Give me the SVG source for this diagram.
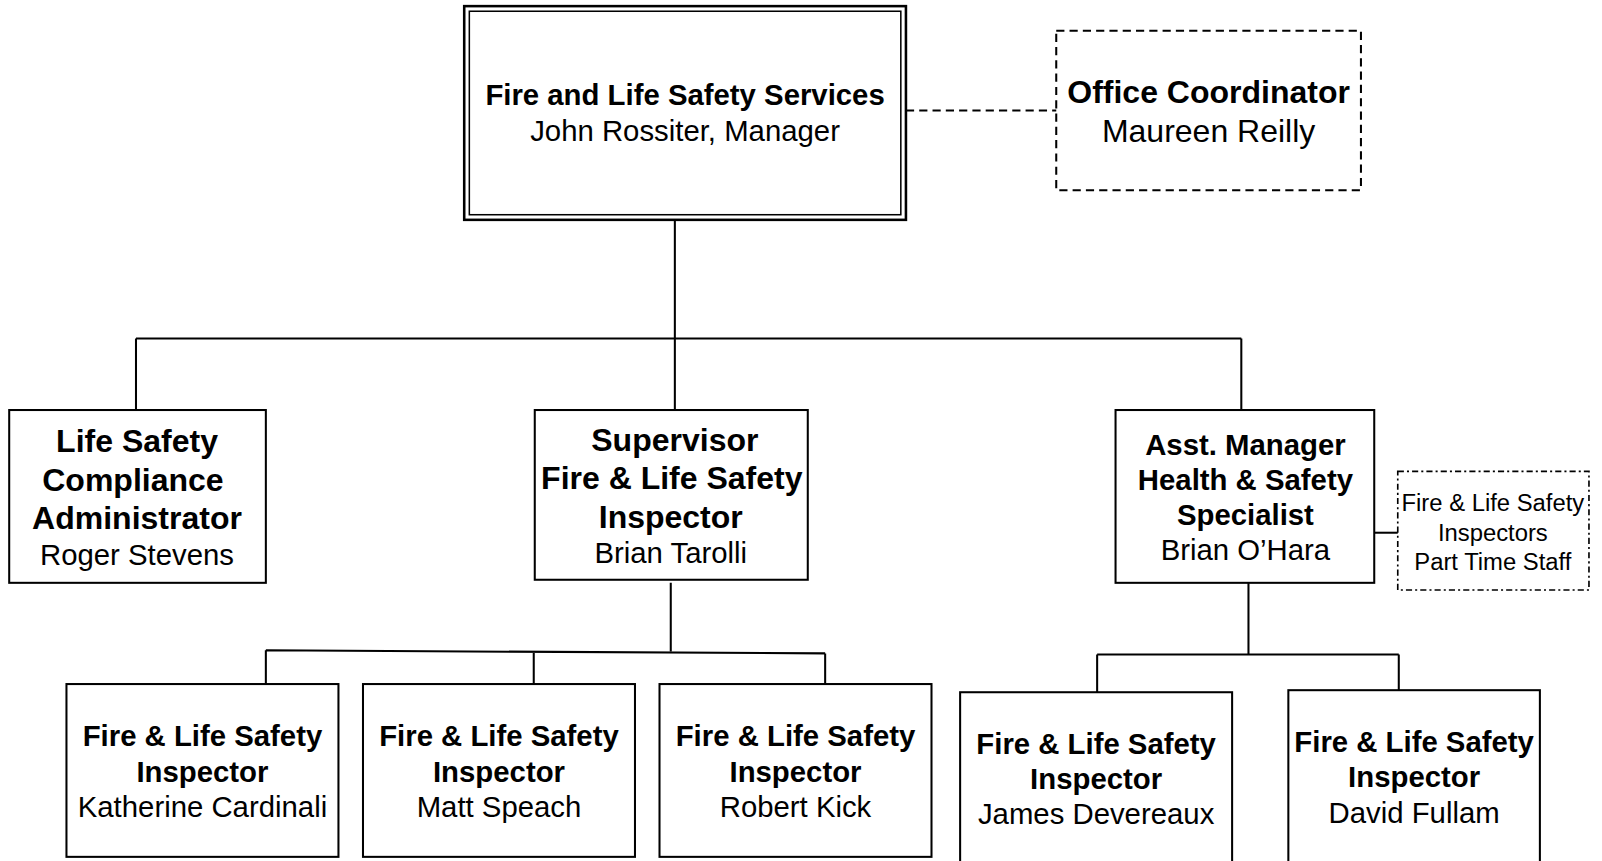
<svg xmlns="http://www.w3.org/2000/svg" width="1602" height="861" viewBox="0 0 1602 861">
<style>
.box{fill:#fff;stroke:#000;stroke-width:2}
.ln{fill:none;stroke:#000;stroke-width:2}
.dash{fill:none;stroke:#000;stroke-width:2;stroke-dasharray:8 5}
.dd{fill:none;stroke:#000;stroke-width:1.6;stroke-dasharray:6 3 2 3}
text{font-family:"Liberation Sans",Arial,sans-serif;text-anchor:middle;fill:#000}
.b{font-weight:bold}
.t28{font-size:28.7px}
.t31{font-size:31.3px}
.t23{font-size:23.3px}
</style>
<rect width="1602" height="861" fill="#fff"/>
<g transform="scale(1.0225)">
<g id="connectors">
<path class="dash" d="M886 108H1033"/>
<path class="ln" d="M660 215V331M133 331H1214M133 331V401M660 331V401M1214 331V401"/>
<path class="ln" d="M656 570V637M260 636L807 639M260 636V669M522 637V669M807 639V672"/>
<path class="ln" d="M1221 570V640M1073 640H1368M1073 640V677M1368 640V675"/>
<path class="ln" d="M1344 521H1367"/>
</g>
<g id="n-top">
<rect x="454" y="6" width="432" height="209" fill="#fff" stroke="#000" stroke-width="2.5"/>
<rect x="459" y="11" width="422" height="199" fill="none" stroke="#000" stroke-width="1.5"/>
<text x="670" y="103" class="t28 b">Fire and Life Safety Services</text>
<text x="670" y="138" class="t28">John Rossiter, Manager</text>
</g>
<g id="n-office">
<rect class="dash" x="1033" y="30" width="298" height="156"/>
<text x="1182" y="101" class="t31 b">Office Coordinator</text>
<text x="1182" y="139" class="t31">Maureen Reilly</text>
</g>
<g id="n-lsca">
<rect class="box" x="9" y="401" width="251" height="169"/>
<text x="134" y="442" class="t31 b">Life Safety</text>
<text x="130" y="480" class="t31 b">Compliance</text>
<text x="134" y="517" class="t31 b">Administrator</text>
<text x="134" y="553" class="t28">Roger Stevens</text>
</g>
<g id="n-super">
<rect class="box" x="523" y="401" width="267" height="166"/>
<text x="660" y="441" class="t31 b">Supervisor</text>
<text x="657" y="478" class="t31 b">Fire &amp; Life Safety</text>
<text x="656" y="516" class="t31 b">Inspector</text>
<text x="656" y="551" class="t28">Brian Tarolli</text>
</g>
<g id="n-asst">
<rect class="box" x="1091" y="401" width="253" height="169"/>
<text x="1218" y="445" class="t28 b">Asst. Manager</text>
<text x="1218" y="479" class="t28 b">Health &amp; Safety</text>
<text x="1218" y="513" class="t28 b">Specialist</text>
<text x="1218" y="548" class="t28">Brian O’Hara</text>
</g>
<g id="n-parttime">
<rect class="dd" x="1367" y="461" width="187" height="116"/>
<text x="1460" y="500" class="t23">Fire &amp; Life Safety</text>
<text x="1460" y="529" class="t23">Inspectors</text>
<text x="1460" y="557" class="t23">Part Time Staff</text>
</g>
<g id="n-katherine">
<rect class="box" x="65" y="669" width="266" height="169"/>
<text x="198" y="730" class="t28 b">Fire &amp; Life Safety</text>
<text x="198" y="765" class="t28 b">Inspector</text>
<text x="198" y="799" class="t28">Katherine Cardinali</text>
</g>
<g id="n-matt">
<rect class="box" x="355" y="669" width="266" height="169"/>
<text x="488" y="730" class="t28 b">Fire &amp; Life Safety</text>
<text x="488" y="765" class="t28 b">Inspector</text>
<text x="488" y="799" class="t28">Matt Speach</text>
</g>
<g id="n-robert">
<rect class="box" x="645" y="669" width="266" height="169"/>
<text x="778" y="730" class="t28 b">Fire &amp; Life Safety</text>
<text x="778" y="765" class="t28 b">Inspector</text>
<text x="778" y="799" class="t28">Robert Kick</text>
</g>
<g id="n-james">
<rect class="box" x="939" y="677" width="266" height="200"/>
<text x="1072" y="737" class="t28 b">Fire &amp; Life Safety</text>
<text x="1072" y="772" class="t28 b">Inspector</text>
<text x="1072" y="806" class="t28">James Devereaux</text>
</g>
<g id="n-david">
<rect class="box" x="1260" y="675" width="246" height="200"/>
<text x="1383" y="735" class="t28 b">Fire &amp; Life Safety</text>
<text x="1383" y="770" class="t28 b">Inspector</text>
<text x="1383" y="805" class="t28">David Fullam</text>
</g>
</g>
</svg>
